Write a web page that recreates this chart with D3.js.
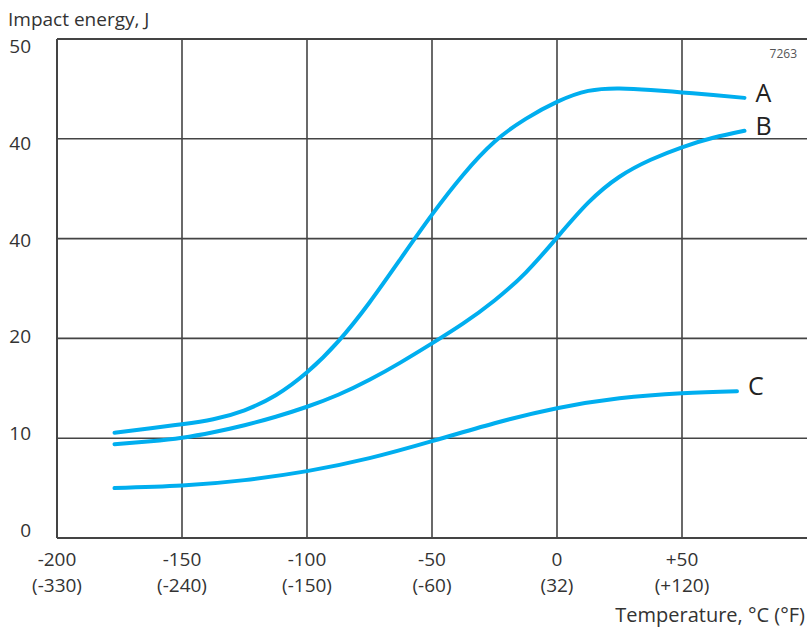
<!DOCTYPE html>
<html>
<head>
<meta charset="utf-8">
<script src="https://cdn.jsdelivr.net/npm/d3@7"></script>
<style>
  body { margin: 0; background: #fff; }
  svg { display: block; font-family: "Open Sans", sans-serif; }
</style>
</head>
<body>
<div id="app"></div>
<script>
// values (temperature in °C, energy in grid units)
const tempsAB = [-177, -162.5, -150, -137.5, -125, -112.5, -100, -87.5, -75, -62.5, -50, -37.5, -25, -12.5, 0, 12.5, 25, 37.5, 50, 62.5, 75]
const energyA = [10.55, 11.0, 11.4, 11.9, 12.8, 14.3, 16.6, 19.7, 23.6, 28.0, 32.4, 36.4, 39.7, 42.0, 43.7, 44.8, 45.05, 44.9, 44.65, 44.4, 44.1]
const energyB = [9.4, 9.7, 10.05, 10.6, 11.3, 12.15, 13.15, 14.35, 15.85, 17.6, 19.5, 21.5, 23.8, 26.6, 30.1, 33.6, 36.2, 37.9, 39.15, 40.1, 40.8]

const tempsC = [-177, -150, -125, -100, -75, -50, -25, 0, 25, 50, 72]
const energyC = [5.0, 5.25, 5.8, 6.7, 8.0, 9.7, 11.5, 13.0, 14.0, 14.5, 14.7]

const seriesNames = ["A", "B", "C"]

const xTicks = [-200, -150, -100, -50, 0, 50]
const xTickC = ["-200", "-150", "-100", "-50", "0", "+50"]
const xTickF = ["(-330)", "(-240)", "(-150)", "(-60)", "(32)", "(+120)"]

const yTicks = [0, 10, 20, 30, 40, 50]
const yTickLabels = ["0", "10", "20", "40", "40", "50"]

const width = 807
const height = 633
const plotLeft = 57, plotRight = 807, plotTop = 39, plotBottom = 538
const blue = "#00aeef"
const ink = "#333"
const gridColor = "#444"

const x = d3.scaleLinear().domain([-200, 100]).range([plotLeft, plotRight])
const y = d3.scaleLinear().domain([0, 50]).range([plotBottom, plotTop])

const svg = d3.select('#app').append('svg')
    .attr('width', width)
    .attr('height', height)

// grid
const grid = svg.append('g')
grid.selectAll('line.v')
    .data(xTicks)
    .join('line')
    .attr('class', 'v')
    .attr('x1', d => x(d)).attr('x2', d => x(d))
    .attr('y1', plotTop).attr('y2', plotBottom)
    .attr('stroke', gridColor)
    .attr('stroke-width', d => d === -200 ? 2 : 1.6)

grid.selectAll('line.h')
    .data(yTicks)
    .join('line')
    .attr('class', 'h')
    .attr('x1', plotLeft).attr('x2', plotRight)
    .attr('y1', d => y(d)).attr('y2', d => y(d))
    .attr('stroke', gridColor)
    .attr('stroke-width', d => (d === 0 || d === 50) ? 2 : 1.6)

// y tick labels (shift grows toward the top, like the original)
svg.append('g').selectAll('text')
    .data(yTicks)
    .join('text')
    .attr('x', 31)
    .attr('y', d => y(d) - 1 + d * 0.3)
    .attr('text-anchor', 'end')
    .attr('font-size', 19)
    .attr('fill', ink)
    .text((d, i) => yTickLabels[i])

// x tick labels, two rows
const xl = svg.append('g').selectAll('g')
    .data(xTicks)
    .join('g')
    .attr('transform', d => `translate(${x(d)},0)`)
xl.append('text')
    .attr('y', 566)
    .attr('text-anchor', 'middle')
    .attr('font-size', 19)
    .attr('fill', ink)
    .text((d, i) => xTickC[i])
xl.append('text')
    .attr('y', 592)
    .attr('text-anchor', 'middle')
    .attr('font-size', 19)
    .attr('fill', ink)
    .text((d, i) => xTickF[i])

// axis titles
svg.append('text')
    .attr('x', 8).attr('y', 26)
    .attr('font-size', 19)
    .attr('fill', ink)
    .text('Impact energy, J')

svg.append('text')
    .attr('x', 805).attr('y', 622)
    .attr('text-anchor', 'end')
    .attr('font-size', 20)
    .attr('fill', ink)
    .text('Temperature, °C (°F)')

svg.append('text')
    .attr('x', 797).attr('y', 58)
    .attr('text-anchor', 'end')
    .attr('font-size', 12)
    .attr('fill', '#555')
    .text('7263')

// curves
const series = [
    { name: seriesNames[0], temps: tempsAB, values: energyA },
    { name: seriesNames[1], temps: tempsAB, values: energyB },
    { name: seriesNames[2], temps: tempsC, values: energyC }
]

const line = d3.line()
    .x(d => x(d[0]))
    .y(d => y(d[1]))
    .curve(d3.curveNatural)

svg.append('g').selectAll('path')
    .data(series)
    .join('path')
    .attr('d', s => line(s.temps.map((t, i) => [t, s.values[i]])))
    .attr('fill', 'none')
    .attr('stroke', blue)
    .attr('stroke-width', 4)
    .attr('stroke-linecap', 'round')

svg.append('g').selectAll('text')
    .data(series)
    .join('text')
    .attr('x', s => x(s.temps[s.temps.length - 1]) + 11)
    .attr('y', s => y(s.values[s.values.length - 1]) - 6)
    .attr('dominant-baseline', 'central')
    .attr('font-size', 25)
    .attr('fill', '#222')
    .text(s => s.name)
</script>
</body>
</html>
